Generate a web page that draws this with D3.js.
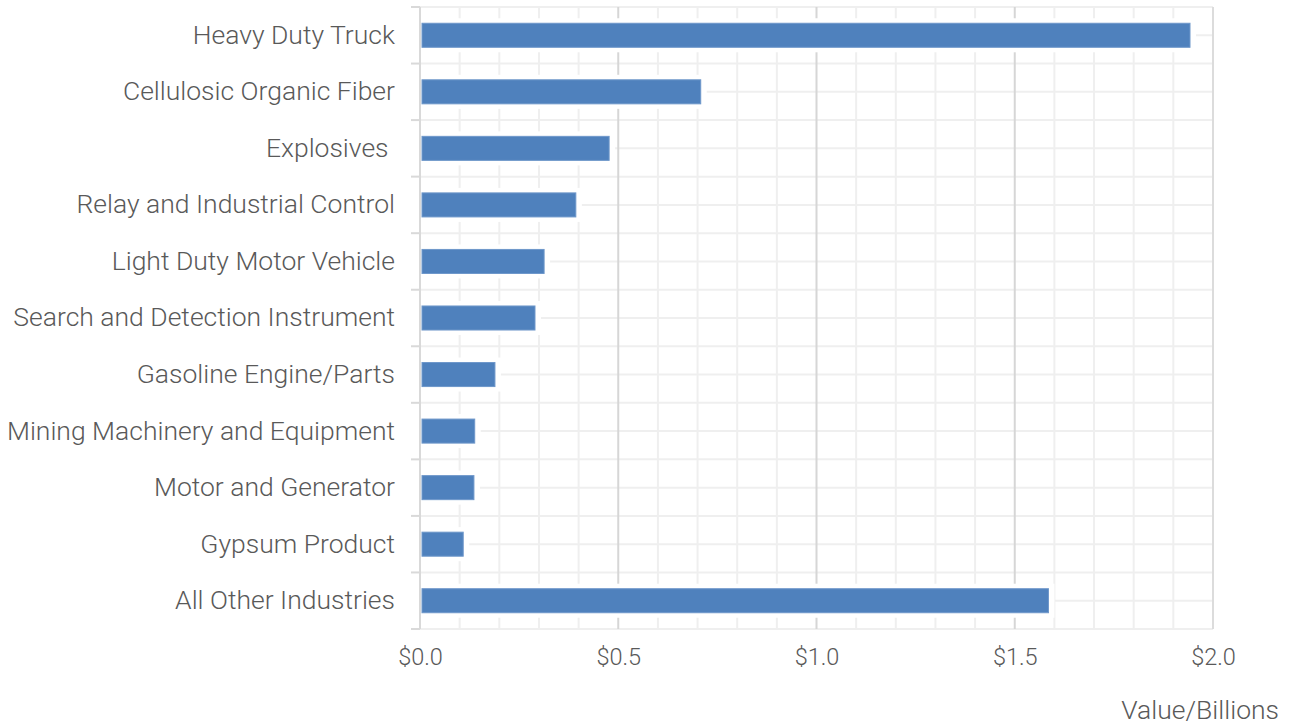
<!DOCTYPE html>
<html>
<head>
<meta charset="utf-8">
<script src="https://cdn.jsdelivr.net/npm/d3@7"></script>
<style>
  body { margin: 0; background: #fff; }
  svg { display: block; font-family: Roboto, "Open Sans", sans-serif; font-weight: 300; }
  text { white-space: pre; }
</style>
</head>
<body>
<svg id="chart" width="1296" height="726"></svg>
<script>
// categories top to bottom
const industries = [
    "Heavy Duty Truck",
    "Cellulosic Organic Fiber",
    "Explosives ",
    "Relay and Industrial Control",
    "Light Duty Motor Vehicle",
    "Search and Detection Instrument",
    "Gasoline Engine/Parts",
    "Mining Machinery and Equipment",
    "Motor and Generator",
    "Gypsum Product",
    "All Other Industries"
];
// value in billions of dollars
const values = [1.942, 0.708, 0.477, 0.393, 0.313, 0.290, 0.189, 0.138, 0.136, 0.109, 1.585];
const majorTicks = [0, 0.5, 1.0, 1.5, 2.0];
const minorTicks = d3.range(1, 20).map(i => i / 10);

let svg = d3.select("#chart"),
    margin = {top: 7, right: 83, bottom: 97, left: 420},
    width = +svg.attr("width") - margin.left - margin.right,
    height = +svg.attr("height") - margin.top - margin.bottom;

let g = svg.append("g").attr("transform", `translate(${margin.left},${margin.top})`);

let x = d3.scaleLinear().domain([0, 2]).range([0, width]);
let y = d3.scaleBand().domain(industries).range([0, height]).paddingInner(0.575).paddingOuter(0.2875);
let yb = d3.scaleBand().domain(industries).range([0, height]); // full bands for grid

// minor vertical grid
g.append("g").selectAll("line")
    .data(minorTicks.filter(t => t % 0.5 > 0.01 && t % 0.5 < 0.49))
    .enter().append("line")
    .attr("x1", d => x(d)).attr("x2", d => x(d))
    .attr("y1", 0).attr("y2", height)
    .attr("stroke", "#efefef").attr("stroke-width", 2);

// horizontal grid: band edges and band centres
let hLines = industries.map(d => yb(d)).concat([height])
    .concat(industries.map(d => yb(d) + yb.bandwidth() / 2));
g.append("g").selectAll("line")
    .data(hLines)
    .enter().append("line")
    .attr("x1", 0).attr("x2", width)
    .attr("y1", d => d).attr("y2", d => d)
    .attr("stroke", "#efefef").attr("stroke-width", 2);

// major vertical grid
g.append("g").selectAll("line")
    .data(majorTicks.slice(1))
    .enter().append("line")
    .attr("x1", d => x(d)).attr("x2", d => x(d))
    .attr("y1", 0).attr("y2", height)
    .attr("stroke", d => d === 2 ? "#dcdcdc" : "#d6d6d6").attr("stroke-width", 2);

// white halo behind bars
g.append("g").selectAll("rect")
    .data(values)
    .enter().append("rect")
    .attr("x", x(0))
    .attr("y", (d, i) => y(industries[i]) - 5)
    .attr("width", d => x(d) + 6)
    .attr("height", y.bandwidth() + 10)
    .attr("fill", "#fff");

// bars
g.append("g").selectAll("rect")
    .data(values)
    .enter().append("rect")
    .attr("x", x(0) + 2)
    .attr("y", (d, i) => y(industries[i]))
    .attr("width", d => x(d) - 2)
    .attr("height", y.bandwidth())
    .attr("fill", "#4f81bd")
    .attr("stroke", "#6e97ca")
    .attr("stroke-width", 1);

// y axis
let yAxis = g.append("g")
    .call(d3.axisLeft(y).tickSize(0).tickPadding(25));
yAxis.select(".domain").remove();
yAxis.selectAll("text")
    .attr("fill", "#595959")
    .style("font-size", "26.5px")
    .style("font-family", "Roboto")
    .style("font-weight", 300);

g.append("line")
    .attr("x1", 0).attr("x2", 0).attr("y1", 0).attr("y2", height)
    .attr("stroke", "#d9d9d9").attr("stroke-width", 2);
g.append("g").selectAll("line")
    .data(industries.map(d => yb(d)).concat([height]))
    .enter().append("line")
    .attr("x1", -9).attr("x2", 0)
    .attr("y1", d => d).attr("y2", d => d)
    .attr("stroke", "#d9d9d9").attr("stroke-width", 2);

// x axis
let xAxis = g.append("g")
    .attr("transform", `translate(0,${height})`)
    .call(d3.axisBottom(x).tickValues(majorTicks).tickSize(0).tickPadding(19)
        .tickFormat(d => "$" + d3.format(".1f")(d)));
xAxis.select(".domain").remove();
xAxis.selectAll("text")
    .attr("fill", "#595959")
    .style("font-size", "23.5px")
    .style("font-family", "Roboto")
    .style("font-weight", 300);

svg.append("text")
    .attr("x", 1279).attr("y", 719)
    .attr("text-anchor", "end")
    .attr("fill", "#595959")
    .style("font-size", "26.5px")
    .text("Value/Billions");
</script>
</body>
</html>
